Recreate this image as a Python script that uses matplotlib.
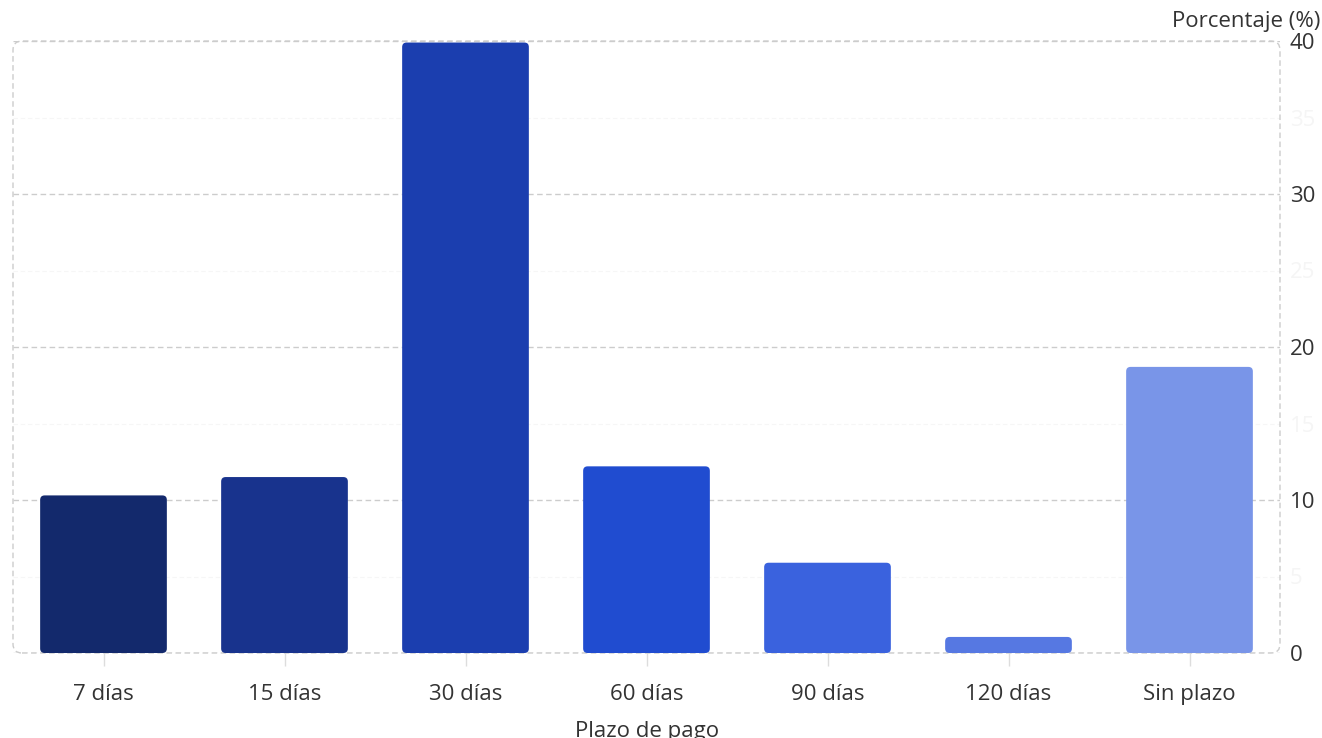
import matplotlib
matplotlib.use("Agg")
import matplotlib.pyplot as plt
from matplotlib.patches import FancyBboxPatch

plt.rcParams['font.family'] = ['Open Sans', 'DejaVu Sans']

# Data
plazos = ["7 días", "15 días", "30 días", "60 días", "90 días", "120 días", "Sin plazo"]
porcentajes = [10.3, 11.5, 39.9, 12.2, 5.9, 1.05, 18.7]
colores = ["#13296C", "#18338D", "#1B3EAF", "#204CD0", "#3A62DE", "#5678E2", "#7995E8"]
major_ticks = [0, 10, 20, 30, 40]
minor_ticks = [5, 15, 25, 35]

TEXT = "#333333"
GRID = "#cccccc"
FS = 16

W, H = 1322, 738
fig = plt.figure(figsize=(W / 100, H / 100), dpi=100)
left_px, right_px, top_px, bottom_px = 13, 1280, 41, 653
ax = fig.add_axes([left_px / W, (H - bottom_px) / H,
                   (right_px - left_px) / W, (bottom_px - top_px) / H])

ax.set_xlim(-0.5, len(plazos) - 0.5)
ax.set_ylim(0, 40)

# Bars: drawn through ax.bar, then replaced by rounded versions of the same geometry
bars = ax.bar(range(len(plazos)), porcentajes, width=0.70, color=colores, zorder=3)
px_per_x = (right_px - left_px) / (len(plazos))
px_per_y = (bottom_px - top_px) / 40.0
radius_px = 4.5
for rect in bars:
    x0, y0 = rect.get_x(), rect.get_y()
    w, h = rect.get_width(), rect.get_height()
    fb = FancyBboxPatch((x0, y0), w, h,
                        boxstyle=f"round,pad=0,rounding_size={radius_px / px_per_x}",
                        mutation_aspect=px_per_x / px_per_y,
                        facecolor=rect.get_facecolor(), edgecolor="none",
                        zorder=3)
    ax.add_patch(fb)
    rect.set_visible(False)

# Grid
ax.set_yticks(major_ticks)
ax.set_yticks(minor_ticks, minor=True)
ax.grid(axis='y', which='major', color=GRID, linestyle=(0, (4, 2.5)), linewidth=1.0, zorder=1)
ax.grid(axis='y', which='minor', color="#f6f6f6", linestyle=(0, (4, 2.5)), linewidth=0.8, zorder=4)
ax.grid(axis='x', visible=False)

for s in ax.spines.values():
    s.set_visible(False)

# Rounded dashed frame around the plotting area
aw, ah = right_px - left_px, bottom_px - top_px
frame = FancyBboxPatch((0, 0), 1, 1, transform=ax.transAxes,
                       boxstyle=f"round,pad=0,rounding_size={9 / aw}",
                       mutation_aspect=aw / ah,
                       facecolor="none", edgecolor=GRID,
                       linestyle=(0, (4, 2.5)), linewidth=1.0,
                       clip_on=False, zorder=2)
ax.add_patch(frame)

# Y axis on the right
ax.yaxis.tick_right()
ax.tick_params(axis='y', which='major', length=0, pad=7, labelsize=FS, labelcolor=TEXT)
ax.tick_params(axis='y', which='minor', length=0, pad=7, labelsize=FS, labelcolor="#f5f5f5")
ax.set_yticklabels([str(t) for t in major_ticks])
ax.set_yticklabels([str(t) for t in minor_ticks], minor=True)

# X axis
ax.set_xticks(range(len(plazos)))
ax.set_xticklabels(plazos)
ax.tick_params(axis='x', length=9, width=1, color="#dddddd", pad=13,
               labelsize=FS, labelcolor=TEXT)

# Axis titles
fig.text(1320 / W, (H - 21) / H, "Porcentaje (%)", ha='right', va='center',
         fontsize=FS, color=TEXT)
fig.text(647 / W, 1 / H, "Plazo de pago", ha='center', va='baseline',
         fontsize=FS, color=TEXT)

fig.savefig("out.png", dpi=100)
